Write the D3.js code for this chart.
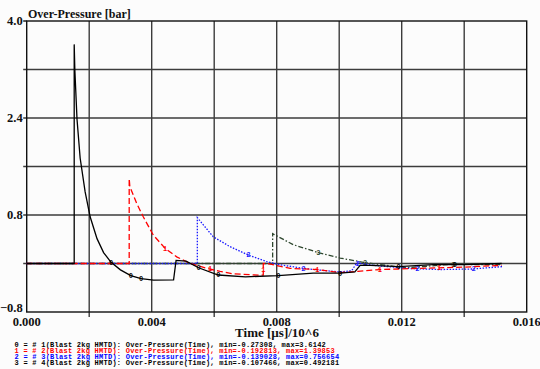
<!DOCTYPE html>
<html>
<head>
<meta charset="utf-8">
<script src="https://cdn.jsdelivr.net/npm/d3@7"></script>
<style>
  html, body { margin: 0; padding: 0; background: #fcfcfc; }
  svg { display: block; }
</style>
</head>
<body>
<div id="chart"></div>
<script>
// time axis is in µs/10^6, values in bar
var xTicksLabeled = [0, 0.004, 0.008, 0.012, 0.016];
var xGrid = [0.002, 0.004, 0.006, 0.008, 0.010, 0.012, 0.014];
var yTicksLabeled = [4.0, 2.4, 0.8, -0.8];
var yGrid = [3.2, 2.4, 1.6, 0.8, 0];

var s0Time = [0, 0.00152, 0.00152, 0.00154, 0.00161, 0.00171, 0.00187, 0.00203, 0.00225, 0.00246, 0.0027, 0.0030, 0.00333, 0.00366, 0.00406, 0.0047, 0.00478, 0.0051, 0.0055, 0.00613, 0.0070, 0.00805, 0.00917, 0.01003, 0.0105, 0.01067, 0.0110, 0.0119, 0.0130, 0.0140, 0.0152];
var s0Val  = [0, 0, 3.6142, 3.2, 2.38, 1.74, 1.18, 0.77, 0.41, 0.18, 0.02, -0.105, -0.2, -0.25, -0.273, -0.27, 0.05, 0.04, -0.07, -0.19, -0.22, -0.2, -0.16, -0.16, -0.14, -0.03, -0.03, -0.05, -0.02, -0.02, 0.0];
var s0Marks = [[0.0027, 0.02], [0.00333, -0.2], [0.00366, -0.25], [0.0055, -0.07], [0.00613, -0.19], [0.00805, -0.2], [0.01003, -0.16], [0.0119, -0.05], [0.0137, -0.02]];

var s1Time = [0, 0.00328, 0.00328, 0.0033, 0.00352, 0.00373, 0.00405, 0.00443, 0.0048, 0.00523, 0.00576, 0.00619, 0.0066, 0.00747, 0.00757, 0.00757, 0.0077, 0.00843, 0.0093, 0.01003, 0.0106, 0.01131, 0.01259, 0.0140, 0.0152];
var s1Val  = [0, 0, 1.3985, 1.27, 0.99, 0.77, 0.47, 0.25, 0.11, 0.0, -0.08, -0.13, -0.17, -0.193, -0.19, 0.0, 0.0, -0.08, -0.1, -0.15, -0.13, -0.1, -0.08, -0.06, -0.03];
var s1Marks = [[0.00443, 0.25], [0.00587, -0.09], [0.00757, -0.1], [0.0093, -0.1], [0.0113, -0.1], [0.0132, -0.07]];

var s2Time = [0, 0.00546, 0.00546, 0.00597, 0.0065, 0.00709, 0.00768, 0.0081, 0.00885, 0.00939, 0.01003, 0.0104, 0.01056, 0.01109, 0.01216, 0.01322, 0.01429, 0.01525];
var s2Val  = [0, 0, 0.7567, 0.44, 0.28, 0.14, 0.03, -0.02, -0.08, -0.11, -0.139, -0.12, 0.01, -0.03, -0.08, -0.1, -0.09, -0.05];
var s2Marks = [[0.00709, 0.14], [0.00885, -0.08], [0.0106, 0.0], [0.0125, -0.09], [0.0143, -0.09]];

var s3Time = [0, 0.00787, 0.00787, 0.00853, 0.00933, 0.01003, 0.01077, 0.01163, 0.0121, 0.01269, 0.01365, 0.0145, 0.01515];
var s3Val  = [0, 0, 0.4922, 0.31, 0.18, 0.09, 0.02, -0.04, -0.07, -0.05, -0.01, -0.02, -0.02];
var s3Marks = [[0.00933, 0.18], [0.01083, 0.02], [0.01365, -0.01]];

var legendLines = [
  "0 = # 1(Blast 2kg HMTD): Over-Pressure(Time), min=-0.27308, max=3.6142",
  "1 = # 2(Blast 2kg HMTD): Over-Pressure(Time), min=-0.192813, max=1.39853",
  "2 = # 3(Blast 2kg HMTD): Over-Pressure(Time), min=-0.139028, max=0.756654",
  "3 = # 4(Blast 2kg HMTD): Over-Pressure(Time), min=-0.107466, max=0.492181"
];
var legendColors = ["#000000", "#ff0000", "#0000ff", "#000000"];

var series = [
  {id: 3, t: s3Time, v: s3Val, marks: s3Marks, color: "#2e472e", dash: "5,2,1.5,2"},
  {id: 2, t: s2Time, v: s2Val, marks: s2Marks, color: "#1a1aff", dash: "1.5,1.5"},
  {id: 1, t: s1Time, v: s1Val, marks: s1Marks, color: "#ff0000", dash: "6,3"},
  {id: 0, t: s0Time, v: s0Val, marks: s0Marks, color: "#000000", dash: null}
];

function drawChart() {
    var width = 540, height = 369;
    var svg = d3.select("#chart")
      .append("svg")
        .attr("width", width)
        .attr("height", height);

    // plot box
    var pLeft = 26.7, pRight = 526.7, pTop = 21, pBottom = 312;

    var x = d3.scaleLinear().domain([0, 0.016]).range([pLeft, pRight]);
    var y = d3.scaleLinear().domain([-0.8, 4.0]).range([pBottom, pTop]);

    // grid lines (the unlabeled vertical ones poke out below the axis)
    svg.selectAll(".vgrid")
      .data(xGrid)
      .enter()
      .append("line")
        .attr("x1", function(d) { return x(d); })
        .attr("x2", function(d) { return x(d); })
        .attr("y1", pTop)
        .attr("y2", function(d) { return xTicksLabeled.some(function(t) { return Math.abs(t - d) < 1e-9; }) ? pBottom : pBottom + 5; })
        .attr("stroke", "#3c3c3c")
        .attr("stroke-width", 1.4);

    svg.selectAll(".hgrid")
      .data(yGrid)
      .enter()
      .append("line")
        .attr("x1", pLeft - 3.5)
        .attr("x2", pRight)
        .attr("y1", function(d) { return y(d); })
        .attr("y2", function(d) { return y(d); })
        .attr("stroke", "#3c3c3c")
        .attr("stroke-width", 1.4);

    // tick at 4.0
    svg.append("line")
      .attr("x1", pLeft - 3.5).attr("x2", pLeft)
      .attr("y1", y(4.0)).attr("y2", y(4.0))
      .attr("stroke", "#111").attr("stroke-width", 1.4);

    // frame
    svg.append("rect")
      .attr("x", pLeft).attr("y", pTop)
      .attr("width", pRight - pLeft).attr("height", pBottom - pTop)
      .attr("fill", "none")
      .attr("stroke", "#111")
      .attr("stroke-width", 1.4);

    // curves
    var line = d3.line()
      .x(function(d) { return x(d[0]); })
      .y(function(d) { return y(d[1]); });

    series.forEach(function(s) {
      var pts = s.t.map(function(t, i) { return [t, s.v[i]]; });
      svg.append("path")
        .datum(pts)
        .attr("d", line)
        .attr("fill", "none")
        .attr("stroke", s.color)
        .attr("stroke-width", 1.3)
        .attr("stroke-dasharray", s.dash);

      // markers are the series number written on the curve
      svg.selectAll(".mark" + s.id)
        .data(s.marks)
        .enter()
        .append("text")
          .attr("x", function(d) { return x(d[0]); })
          .attr("y", function(d) { return y(d[1]); })
          .attr("dy", "0.35em")
          .attr("text-anchor", "middle")
          .attr("font-family", "Liberation Mono, monospace")
          .attr("font-weight", "bold")
          .attr("font-size", "7px")
          .attr("fill", s.color)
          .text(s.id);
    });

    // axis labels
    svg.selectAll(".xlab")
      .data(xTicksLabeled)
      .enter()
      .append("text")
        .attr("x", function(d) { return x(d); })
        .attr("y", pBottom + 13.5)
        .attr("text-anchor", "middle")
        .attr("font-family", "Liberation Serif, serif")
        .attr("font-weight", "bold")
        .attr("font-size", "12.5px")
        .attr("fill", "#111")
        .text(function(d) { return d3.format(".3f")(d); });

    svg.selectAll(".ylab")
      .data(yTicksLabeled)
      .enter()
      .append("text")
        .attr("x", pLeft - 4)
        .attr("y", function(d) { return d === -0.8 ? y(d) : y(d) + 4; })
        .attr("text-anchor", "end")
        .attr("font-family", "Liberation Serif, serif")
        .attr("font-weight", "bold")
        .attr("font-size", "12.5px")
        .attr("fill", "#111")
        .text(function(d) { return d3.format(".1f")(d); });

    svg.append("text")
      .attr("x", 28)
      .attr("y", 17.5)
      .attr("font-family", "Liberation Serif, serif")
      .attr("font-weight", "bold")
      .attr("font-size", "12px")
      .attr("fill", "#111")
      .text("Over-Pressure [bar]");

    svg.append("text")
      .attr("x", 277)
      .attr("y", 336.5)
      .attr("text-anchor", "middle")
      .attr("font-family", "Liberation Serif, serif")
      .attr("font-weight", "bold")
      .attr("font-size", "13px")
      .attr("fill", "#111")
      .text("Time [µs]/10^6");

    // legend, tightly packed like the original printout
    svg.selectAll(".legend")
      .data(legendLines)
      .enter()
      .append("text")
        .attr("x", 14.5)
        .attr("y", function(d, i) { return 346.5 + i * 6.1; })
        .attr("font-family", "Liberation Mono, Courier New, monospace")
        .attr("font-weight", "bold")
        .attr("font-size", "7px")
        .attr("letter-spacing", "0.25px")
        .attr("fill", function(d, i) { return legendColors[i]; })
        .text(function(d) { return d; });
}

drawChart();
</script>
</body>
</html>
